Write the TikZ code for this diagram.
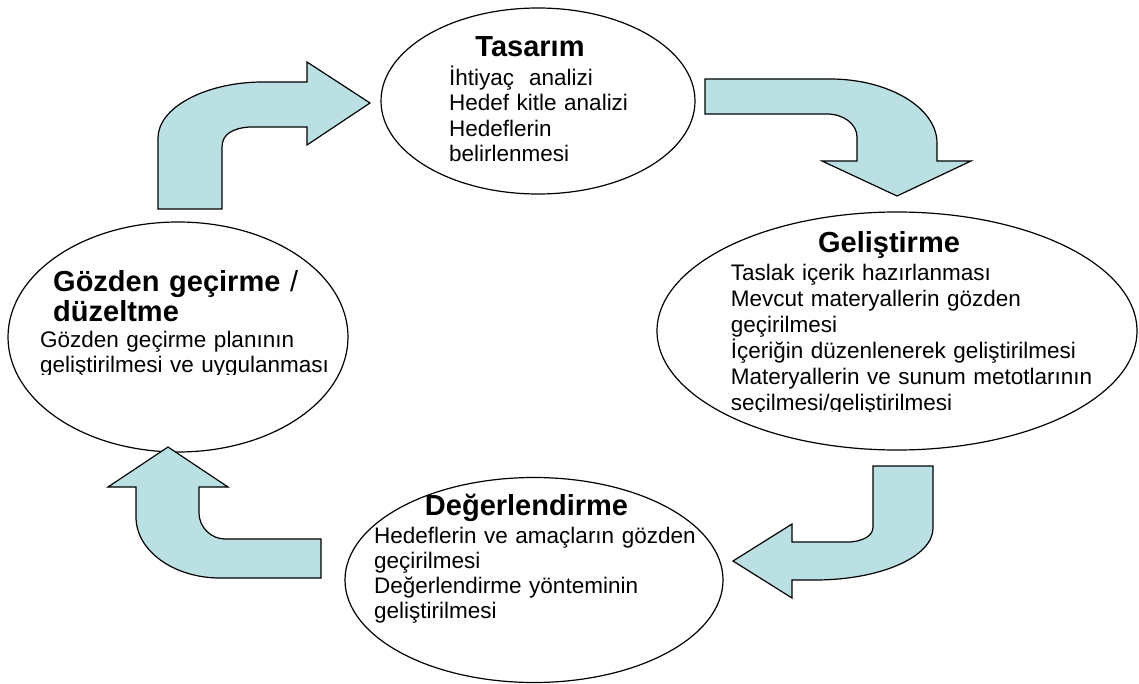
\documentclass[tikz,border=0pt]{standalone}
\usepackage{fontspec}
\setmainfont{Liberation Sans}
\usetikzlibrary{shapes.geometric}
\definecolor{arrowfill}{RGB}{187,224,228}
\tikzset{
  phase/.style={ellipse, draw=black, line width=1.2pt, inner sep=0pt},
  blockarrow/.style={fill=arrowfill, draw=black, line width=1.2pt, line join=miter},
  ttl/.style={inner sep=0pt, font=\fontsize{29}{29.5}\selectfont\bfseries},
  body/.style={inner sep=0pt, text width=380pt, align=left,
    font=\fontsize{22.5}{25.5}\selectfont},
}
\begin{document}
\begin{tikzpicture}[x=1pt, y=-1pt]
\useasboundingbox (0,0) rectangle (1139,684);

% the four phases
\node[phase, minimum width=314pt, minimum height=186pt] (tas) at (538,101) {};
\node[phase, minimum width=480pt, minimum height=238pt] (gel) at (897,331) {};
\node[phase, minimum width=378pt, minimum height=205pt] (deg) at (534,580) {};
\node[phase, minimum width=340pt, minimum height=230pt] (goz) at (178,337) {};

% Tasarim
\node[ttl, anchor=base] (tasT) at (530,56.5) {Tasarım};
\node[body, anchor=base west] (tasB) at (449,85.5)
  {İhtiyaç~ analizi\\Hedef kitle analizi\\Hedeflerin\\belirlenmesi};

% Gelistirme (text box cut at its lower edge)
\node[ttl, anchor=base] (gelT) at (889,253) {Geliştirme};
\begin{scope}
  \clip (650,200) rectangle (1139,411);
  \node[body, anchor=base west, font=\fontsize{22.5}{26}\selectfont] (gelB) at (730.7,280)
    {Taslak içerik hazırlanması\\Mevcut materyallerin gözden\\geçirilmesi\\
     İçeriğin düzenlenerek geliştirilmesi\\Materyallerin ve sunum metotlarının\\
     seçilmesi/geliştirilmesi};
\end{scope}

% Degerlendirme
\node[ttl, anchor=base] (degT) at (526.5,515) {Değerlendirme};
\node[body, anchor=base west, font=\fontsize{22.5}{25.3}\selectfont] (degB) at (374,543)
  {Hedeflerin ve amaçların gözden\\geçirilmesi\\Değerlendirme yönteminin\\geliştirilmesi};

% Gozden gecirme (text box cut at its lower edge)
\node[ttl, anchor=base west, text width=320pt, align=left] (gozT) at (53,291.7)
  {Gözden geçirme \mdseries/\\\bfseries düzeltme};
\begin{scope}
  \clip (0,200) rectangle (360,374.5);
  \node[body, anchor=base west, font=\fontsize{22.5}{25}\selectfont] (gozB) at (40,347)
    {Gözden geçirme planının\\geliştirilmesi ve uygulanması};
\end{scope}

% bent block arrows between the phases
\path[blockarrow] (158,209) -- (158,138)
  .. controls (158,108) and (204,83) .. (260,82) -- (307,82)
  -- (307,62) -- (370,103) -- (307,145) -- (307,127) -- (250,127)
  .. controls (233,128) and (222,134) .. (222,147) -- (222,209) -- cycle;

\path[blockarrow] (705,79) -- (830,79)
  .. controls (889,79) and (937,108) .. (937,143) -- (937,161)
  -- (971,161) -- (897,196) -- (822,161) -- (857,161) -- (857,137)
  .. controls (857,124) and (843.5,114) .. (827,114) -- (705,114) -- cycle;

\path[blockarrow] (873,466) -- (933,466) -- (933,528)
  .. controls (933,557) and (880,580) .. (815,580) -- (792,580)
  -- (792,598) -- (733,561) -- (792,524) -- (792,542) -- (850,542)
  .. controls (863,541) and (873,536) .. (873,527) -- cycle;

\path[blockarrow] (321,539) -- (225,539)
  .. controls (211,539) and (199,527) .. (199,513) -- (199,487)
  -- (228,487) -- (168,447) -- (108,487) -- (136,487) -- (136,517)
  .. controls (136,551) and (174,578) .. (220,578) -- (321,578) -- cycle;
\end{tikzpicture}
\end{document}
